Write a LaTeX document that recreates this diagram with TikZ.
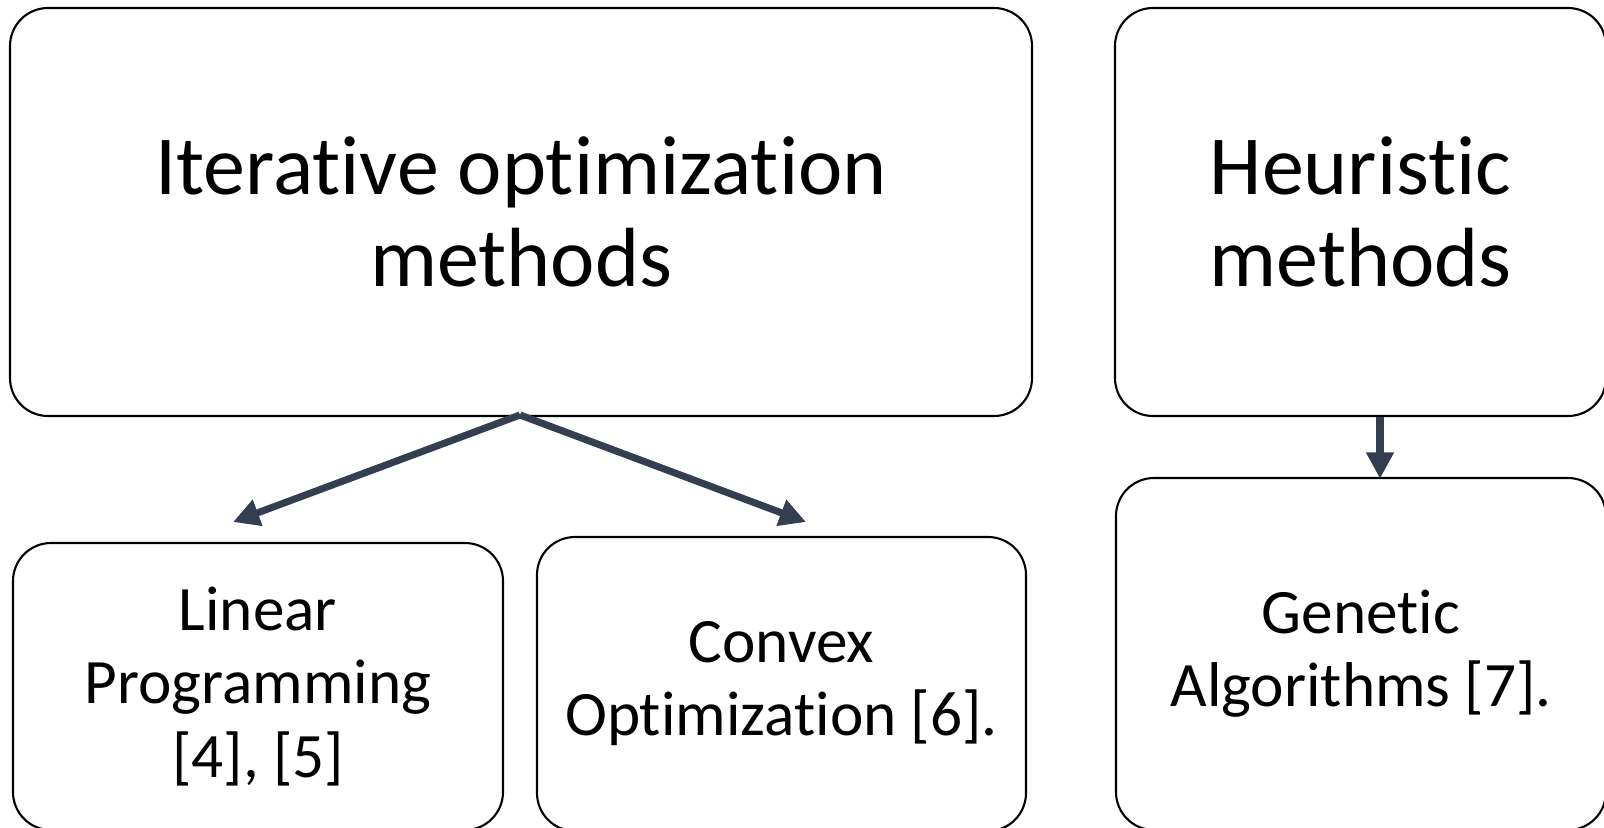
\documentclass[tikz,border=0pt]{standalone}
\usepackage{fontspec}
\setmainfont{Carlito}[Ligatures={NoCommon,NoRare}, RawFeature={-liga;-clig;-dlig}]
\usepackage{tikz}
\usetikzlibrary{shapes, calc, arrows.meta, positioning}

\definecolor{arrowgray}{RGB}{51,63,80}

\begin{document}
\begin{tikzpicture}[>={Triangle[length=7.5pt,width=7.5pt]}, semithick]
	\tikzset{every node/.style={align=center, inner sep=0pt},
		box/.style={draw=black, line width=0.6pt, rounded corners=0.38cm, rectangle},
		bigbox/.style={box, font=\fontsize{23.9}{26.2}\selectfont},
		smallbox/.style={box, font=\fontsize{18}{20.8}\selectfont},
		flow/.style={->, draw=arrowgray, line width=2pt}}
	\useasboundingbox (0,0) rectangle (16.04,8.27);
	\node[bigbox, minimum width=10.22cm, minimum height=4.08cm] (iter) at (5.21,6.15) {Iterative optimization\\methods};
	\node[bigbox, minimum width=4.91cm, minimum height=4.08cm] (heur) at (13.605,6.15) {Heuristic\\methods};
	\node[smallbox, minimum width=4.90cm, minimum height=2.87cm] (lp) at (2.58,1.405) {Linear\\Programming\\{[4], [5]}};
	\node[smallbox, minimum width=4.89cm, minimum height=2.94cm] (cvx) at (7.815,1.43) {Convex\\Optimization [6].};
	\node[smallbox, minimum width=4.90cm, minimum height=3.52cm] (ga) at (13.61,1.73) {Genetic\\Algorithms [7].};
	\coordinate (split) at (5.20,4.12);
	\coordinate (lpTip) at (2.33,3.05);
	\coordinate (cvxTip) at (8.06,3.05);
	\coordinate (gaLine) at (13.80,0);
	\path
		(split)
			edge [flow] (lpTip)
			edge [flow] (cvxTip)
		(heur.south -| gaLine)
			edge [flow, shorten >=-0.5pt] (ga.north -| gaLine);
\end{tikzpicture}
\end{document}
